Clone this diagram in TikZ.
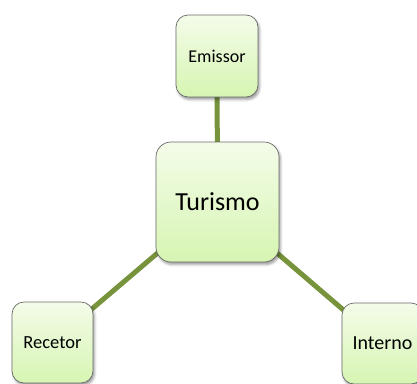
\documentclass[tikz,border=0pt]{standalone}
\usepackage{fontspec}
\setmainfont{Carlito}
\usetikzlibrary{shadows.blur,backgrounds}

\definecolor{linkgreen}{RGB}{119,147,60}
\definecolor{boxtop}{RGB}{244,252,233}
\definecolor{boxbot}{RGB}{214,245,178}
\definecolor{boxline}{RGB}{105,105,105}

\begin{document}
\begin{tikzpicture}[x=1pt,y=-1pt,
  box/.style={rounded corners=12pt, draw=boxline, line width=0.7pt,
    top color=boxtop, bottom color=boxbot,
    minimum width=81pt, minimum height=81pt, inner sep=0pt, outer sep=0pt,
    blur shadow={shadow xshift=1.5pt, shadow yshift=-2.5pt,
      shadow blur radius=2.5pt, shadow opacity=40}},
  link/.style={draw=linkgreen, line width=5pt}]

\clip (0,0) rectangle (417,383);

\def\xm{217}; % middle column
\def\ym{202}; % centre row

% centre box
\node[box, rounded corners=15pt, minimum width=123pt, minimum height=120pt,
  font=\fontsize{26}{30}\selectfont] (turismo) at (\xm+0.5, \ym) {Turismo};

% outer boxes
\node[box, minimum width=82pt, minimum height=82pt,
  font=\fontsize{18}{22}\selectfont] (emissor) at (\xm, 56) {Emissor};
\node[box, font=\fontsize{18.5}{22}\selectfont] (recetor) at (52.5, 342.5) {Recetor};
\node[box, font=\fontsize{20}{24}\selectfont] (interno) at (382.5, 343.5) {Interno};

% links under the boxes
\begin{scope}[on background layer]
\draw[link] (turismo.center) -- (emissor.center);
\draw[link] (turismo.center) -- (recetor.center);
\draw[link] (turismo.center) -- (interno.center);
\end{scope}

\end{tikzpicture}
\end{document}
